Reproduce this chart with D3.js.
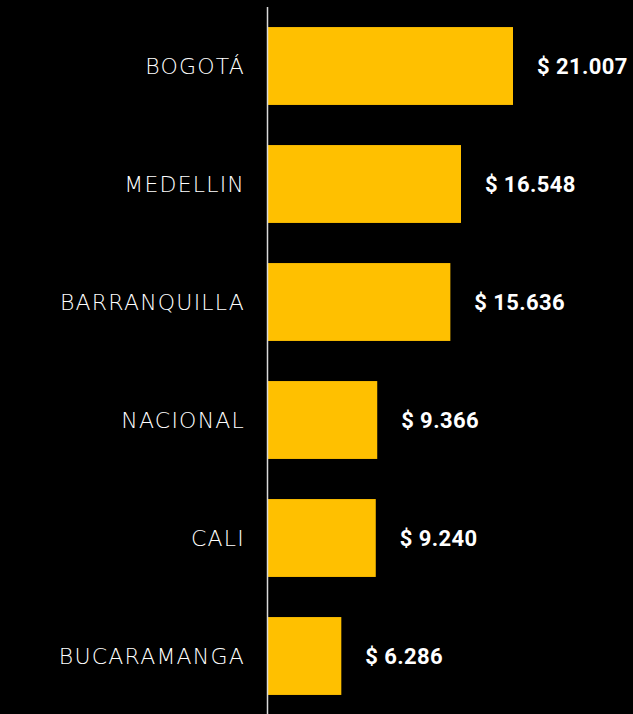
<!DOCTYPE html>
<html>
<head>
<meta charset="utf-8">
<script src="https://cdn.jsdelivr.net/npm/d3@7"></script>
<style>
  html, body { margin: 0; padding: 0; background: #000; }
  svg { display: block; }
</style>
</head>
<body>
<script>
var cities = ["BOGOTÁ", "MEDELLIN", "BARRANQUILLA", "NACIONAL", "CALI", "BUCARAMANGA"];
var values = [21007, 16548, 15636, 9366, 9240, 6286];
var valueLabels = ["$ 21.007", "$ 16.548", "$ 15.636", "$ 9.366", "$ 9.240", "$ 6.286"];

var width = 633, height = 714;
var axisX = 268;

var svg = d3.select("body").append("svg")
    .attr("width", width)
    .attr("height", height)
    .style("background", "#000");

var x = d3.scaleLinear()
    .domain([0, 21007])
    .range([axisX, 513]);

var y = d3.scaleBand()
    .domain(cities)
    .range([7, 715])
    .paddingInner(0.34)
    .paddingOuter(0.17);

var data = cities.map(function(c, i) {
  return {city: c, value: values[i], label: valueLabels[i]};
});

// bars
svg.selectAll("rect.bar")
    .data(data)
  .enter().append("rect")
    .attr("class", "bar")
    .attr("x", x(0))
    .attr("y", function(d) { return y(d.city); })
    .attr("width", function(d) { return x(d.value) - x(0); })
    .attr("height", y.bandwidth())
    .attr("fill", "#FFC000");

// vertical axis line
svg.append("line")
    .attr("x1", axisX - 0.5)
    .attr("x2", axisX - 0.5)
    .attr("y1", 7)
    .attr("y2", height)
    .attr("stroke", "#d9d9d9")
    .attr("stroke-width", 1.5);

// category labels
svg.selectAll("text.cat")
    .data(data)
  .enter().append("text")
    .attr("class", "cat")
    .attr("x", 245)
    .attr("y", function(d) { return y(d.city) + y.bandwidth() / 2; })
    .attr("dy", "0.36em")
    .attr("text-anchor", "end")
    .attr("fill", "#fff")
    .style("font-family", "'DejaVu Sans', sans-serif")
    .style("font-weight", "200")
    .style("font-size", "22px")
    .style("letter-spacing", "1.2px")
    .text(function(d) { return d.city; });

// value labels
svg.selectAll("text.val")
    .data(data)
  .enter().append("text")
    .attr("class", "val")
    .attr("x", function(d) { return x(d.value) + 24; })
    .attr("y", function(d) { return y(d.city) + y.bandwidth() / 2; })
    .attr("dy", "0.36em")
    .attr("fill", "#fff")
    .style("font-family", "Roboto, sans-serif")
    .style("font-weight", "bold")
    .style("font-size", "22px")
    .style("letter-spacing", "0.4px")
    .text(function(d) { return d.label; });
</script>
</body>
</html>
